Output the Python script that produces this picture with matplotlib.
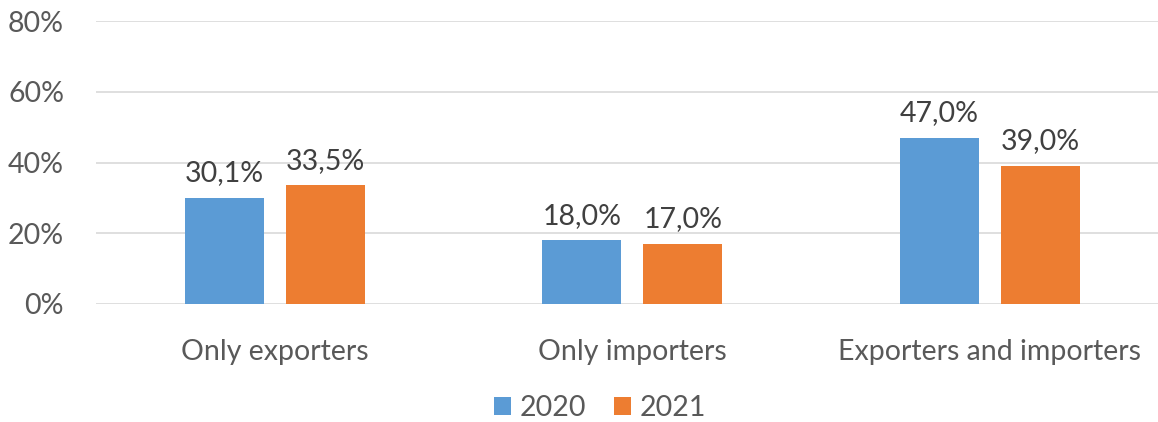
import matplotlib
matplotlib.use("Agg")
import matplotlib.pyplot as plt
import numpy as np

categories = ["Only exporters", "Only importers", "Exporters and importers"]
series_names = ["2020", "2021"]
values_2020 = [30.1, 18.0, 47.0]
values_2021 = [33.5, 17.0, 39.0]
yticks = [0, 20, 40, 60, 80]

plt.rcParams['font.family'] = ['Lato', 'DejaVu Sans']
text_color = '#595959'
fs = 20.5

fig = plt.figure(figsize=(11.58, 4.22), dpi=100)
ax = fig.add_axes([96/1158, 1 - 304/422, (1158 - 96)/1158, (304 - 21)/422])

x = np.arange(len(categories))
w = 0.221
off = 0.1415
colors = ['#5B9BD5', '#ED7D31']
for vals, o, c, name in [(values_2020, -off, colors[0], series_names[0]),
                         (values_2021, off, colors[1], series_names[1])]:
    bars = ax.bar(x + o, vals, width=w, color=c, label=name, zorder=3)
    for b, v in zip(bars, vals):
        ax.text(b.get_x() + b.get_width()/2, v + 3.3, f"{v:.1f}%".replace('.', ','),
                ha='center', va='bottom', fontsize=fs, color='#404040')

ax.set_ylim(0, 80)
ax.set_xlim(-0.5, 2.47)
ax.set_yticks(yticks)
ax.set_yticklabels([f"{t}%" for t in yticks])
ax.set_xticks(x)
ax.set_xticklabels(categories)
ax.tick_params(axis='both', length=0, labelsize=fs, colors=text_color)
ax.tick_params(axis='x', pad=25)
ax.tick_params(axis='y', pad=23)
ax.yaxis.grid(True, color='#D9D9D9', linewidth=1.2, zorder=0)
for s in ax.spines.values():
    s.set_visible(False)

leg = fig.legend(loc='center', bbox_to_anchor=(600/1158, 1 - 408/422), ncol=2, frameon=False,
                 fontsize=fs, handlelength=0.6, handleheight=0.6, columnspacing=1.0,
                 handletextpad=0.3)
for t in leg.get_texts():
    t.set_color(text_color)

fig.savefig("out.png", dpi=100)
